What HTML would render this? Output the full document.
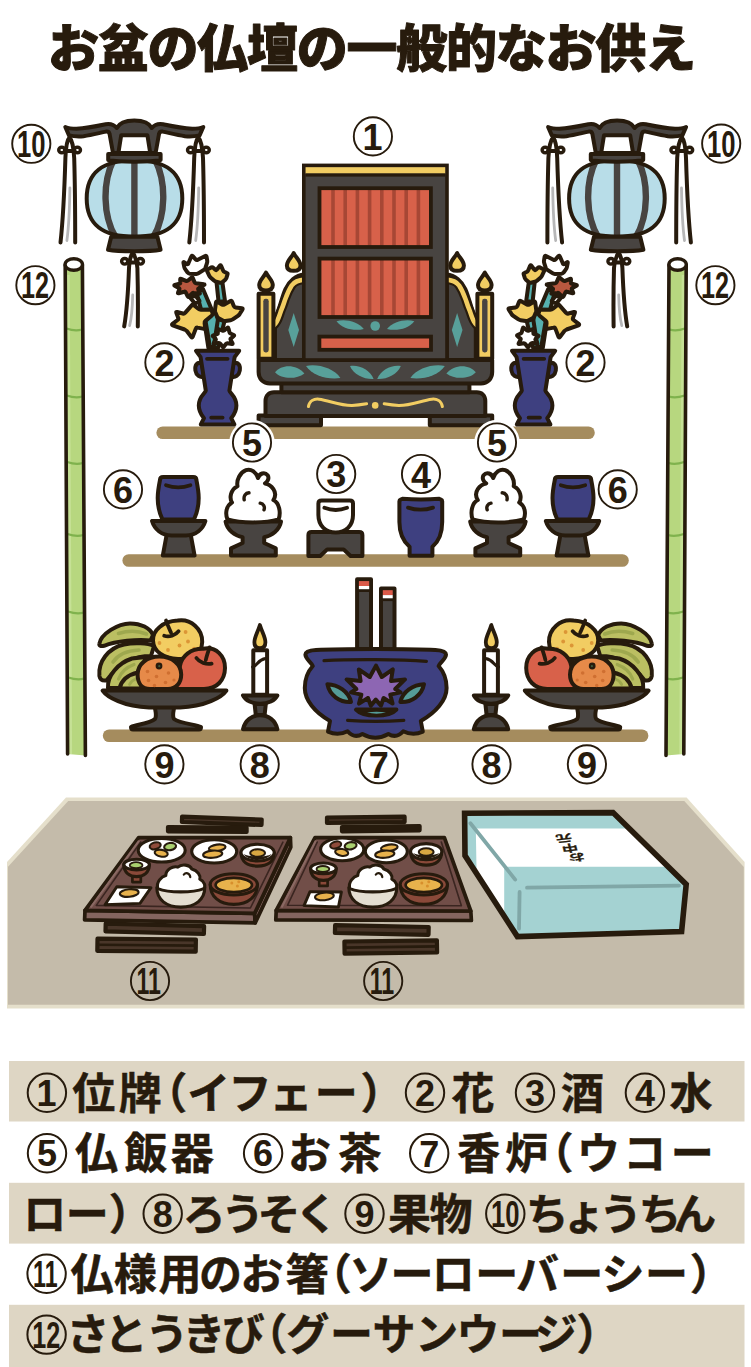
<!DOCTYPE html>
<html lang="ja"><head><meta charset="utf-8"><title>お盆の仏壇の一般的なお供え</title>
<style>
html,body{margin:0;padding:0;background:#fff}
body{width:751px;height:1367px;position:relative;overflow:hidden;font-family:"Liberation Sans",sans-serif}
svg{position:absolute;left:0;top:0;display:block}
svg text{font-family:"Liberation Sans","Noto Sans CJK JP",sans-serif}
.d{font-size:36px;font-weight:bold;fill:#271b0d;stroke:none}
.t{position:absolute;margin:0;color:transparent;white-space:nowrap;font-weight:bold;overflow:hidden;user-select:none}
.o{stroke:#271b0d;stroke-width:4;stroke-linejoin:round;stroke-linecap:round}
.n{fill:none}
.dk{fill:#484441}
.bl{fill:#3e4080}
.gd{fill:#f2cd62}
.tl{fill:#58a09a}
.rd{fill:#d8614a}
.wh{fill:#fff}
</style></head><body>
<svg role="img" aria-label="お盆の仏壇の一般的なお供え" width="751" height="1367" viewBox="0 0 751 1367">
<!-- 00_title.py -->
<g fill="#271b0d" stroke="#271b0d" stroke-width="1" stroke-linejoin="round">
<text x="47.9" y="67.3" font-size="51" font-weight="900" textLength="648" lengthAdjust="spacing">お盆の仏壇の一般的なお供え</text>
</g>
<!-- 05_shelves.svg -->
<g fill="#a58c5e">
<rect x="156.4" y="426.4" width="438.4" height="12.6" rx="6.3"/>
<rect x="122.4" y="554.2" width="506.4" height="12.6" rx="6.3"/>
<rect x="102.8" y="729.4" width="545.6" height="12.6" rx="6.3"/>
</g>

<!-- 10_lantern.py -->
<defs>
<g id="stassel">
  <!-- side tassel -->
  <path class="wh" d="M60.5,242.5 C63,220 64.6,185 65.4,158 L74.2,158 C75,185 75.2,220 75.2,242.5 Z"/>
  <path class="o n" d="M60.5,242.5 C63,220 64.6,185 65.4,158 C65.8,147 67,140 69.5,137.5 C72,140 73.6,147 74.2,158 C75,185 75.2,220 75.2,242.5"/>
  <path d="M69.9,188 C69.6,210 68.6,228 66.9,240.5" fill="none" stroke="#b7b7b8" stroke-width="2.8" stroke-linecap="round"/>
  <ellipse class="o n" cx="61.8" cy="150" rx="3.1" ry="2.8" style="stroke-width:3.4"/>
  <ellipse class="o n" cx="77.4" cy="150" rx="3.1" ry="2.8" style="stroke-width:3.4"/>
  <path class="o n" d="M65,151 L74.5,151"/>
</g>
<g id="lantern">
  <use href="#stassel"/><use href="#stassel" transform="translate(128.8,0)"/>
  <!-- bottom tassel -->
  <path class="wh" d="M124.2,326.4 C127,310 128.4,285 129,268 L137.4,268 C137.9,285 138,310 137.8,326.4 Z"/>
  <path class="o n" d="M124.2,326.4 C127,310 128.4,285 129,268 C129.4,260 130.4,256 132.8,252.6 C135,256 136.8,260 137.4,268 C137.9,285 138,310 137.8,326.4"/>
  <path d="M132.7,295 C132.4,309 131.4,319 129.6,325.6" fill="none" stroke="#b7b7b8" stroke-width="2.8" stroke-linecap="round"/>
  <ellipse class="o n" cx="124.7" cy="261.3" rx="3.1" ry="2.8" style="stroke-width:3.4"/>
  <ellipse class="o n" cx="140.4" cy="261.3" rx="3.1" ry="2.8" style="stroke-width:3.4"/>
  <path class="o n" d="M128.4,262.6 L137.8,262.6"/>
  <!-- hanger -->
  <path class="o dk" fill-rule="evenodd" d="M65.3,127 C68,128.2 72,128.8 76.4,128.8 C88,128 98,125.8 105.6,124.2 C110,123.4 114,124.6 116.8,128 C119.5,122.5 126,120.4 134.3,120.4 C142.6,120.4 149.1,122.5 151.8,128 C154.6,124.6 158.6,123.4 163,124.2 C170.6,125.8 180.6,128 192.2,128.8 C196.6,128.8 200.6,128.2 203.3,127 L199.6,135.4 C195,136.4 190,136.6 185,136.2 C176,134.8 168,132.6 162.6,131.6 C160.6,131.4 159.3,132.2 159,134.2 L155.6,153 L113,153 L109.6,134.2 C109.3,132.2 108,131.4 106,131.6 C100.6,132.6 92.6,134.8 83.6,136.2 C78.6,136.6 73.6,136.4 69,135.4 Z M121.2,135.2 L147.4,135.2 L150.2,152.9 L118.4,152.9 Z"/>
  <!-- globe -->
  <clipPath id="lgc"><path d="M134.5,160.3 C167.0,160.3 182.3,172.5 182.3,198.5 C182.3,224.5 167.0,236.7 134.5,236.7 C102.0,236.7 86.7,224.5 86.7,198.5 C86.7,172.5 102.0,160.3 134.5,160.3 Z"/></clipPath>
  <path d="M134.5,160.3 C167.0,160.3 182.3,172.5 182.3,198.5 C182.3,224.5 167.0,236.7 134.5,236.7 C102.0,236.7 86.7,224.5 86.7,198.5 C86.7,172.5 102.0,160.3 134.5,160.3 Z" fill="#b8dde8"/>
  <g clip-path="url(#lgc)" fill="none" stroke="#484441" stroke-width="6.4">
    <path d="M134.4,158 L134.4,238" stroke-width="6.4"/>
    <path d="M113.5,160 C102.5,182 102.5,216 116,238"/>
    <path d="M155.3,160 C166.3,182 166.3,216 152.8,238"/>
  </g>
  <path class="o n" d="M134.5,160.3 C167.0,160.3 182.3,172.5 182.3,198.5 C182.3,224.5 167.0,236.7 134.5,236.7 C102.0,236.7 86.7,224.5 86.7,198.5 C86.7,172.5 102.0,160.3 134.5,160.3 Z" style="stroke-width:4"/>
  <!-- collars -->
  <path class="o dk" d="M108.2,154 L160.6,154 L160.6,160 C150,162.2 119,162.2 108.2,160 Z"/>
  <path class="o dk" d="M111.2,236.8 L157.4,236.8 L160.6,249.8 C150,251.8 118.5,251.8 108,249.8 Z"/>
</g>

<g id="cane">
  <path d="M65.2,265 L67.6,754 L85.4,755.5 L82.4,265 Z" fill="#b7d77f"/>
  <path d="M68.2,275 L70.6,754" stroke="#c6e196" stroke-width="3" fill="none"/>
  <g fill="none" stroke="#7fb24d" stroke-width="2.2" stroke-linecap="round">
    <path d="M66.5,328.5 Q75,331.5 82.0,329.5"/>
    <path d="M66.8,395.5 Q75.5,398.5 82.4,396.5"/>
    <path d="M67.2,462 Q76,465 82.8,463"/>
    <path d="M67.5,534 Q76.5,537 83.4,535"/>
    <path d="M68,611.5 Q77,614.5 84.0,612.5"/>
    <path d="M68.3,677.5 Q77.5,680.5 84.4,678.5"/>
  </g>
  <path class="o n" d="M65.2,265 L67.6,754 M82.4,265 L85.4,755.5" style="stroke-width:3.6"/>
  <ellipse class="o wh" cx="73.8" cy="264.5" rx="8.7" ry="5.8" style="stroke-width:3.4"/>
</g>
</defs>
<use href="#lantern"/>
<use href="#lantern" transform="translate(751.4,0) scale(-1,1)"/>
<use href="#cane"/>
<use href="#cane" transform="translate(751.4,0) scale(-1,1)"/>
<!-- 20_altar.py -->
<defs><g id="altarhalf">
  <!-- wing -->
  <path class="o dk" d="M304,274.5 C296,275 289,281 285.5,289 C281.5,298 280,308 276.5,314.5 L275,316 L275,360 L304,360 Z"/>
  <path d="M305,279.6 C298,280 294,282 291.7,285.5 C288,291 286.5,296 284.7,300.8 C283.4,305 282.2,308 281,310.8 C279.8,314.5 278.6,318.5 276.8,321.6 C276,323 275.2,324.2 273.6,325.6" fill="none" stroke="#271b0d" stroke-width="9" stroke-linecap="butt"/>
  <path d="M305,279.6 C298,280 294,282 291.7,285.5 C288,291 286.5,296 284.7,300.8 C283.4,305 282.2,308 281,310.8 C279.8,314.5 278.6,318.5 276.8,321.6 C276,323 275.2,324.2 273.6,325.6" fill="none" stroke="#f2cd62" stroke-width="4.6" stroke-linecap="butt"/>
  <path class="tl" d="M293.7,313 L299,330 L293.7,347 L288.3,330 Z"/>
  <!-- post -->
  <rect class="o gd" x="258.6" y="293.8" width="14.8" height="65" />
  <rect class="dk" x="263.3" y="298.8" width="5.4" height="53.6" rx="2.4"/>
  <path class="o gd" d="M266,272.6 C268,277 272.8,280.5 272.8,285 C272.8,288.6 270,290.4 266,290.4 C262,290.4 259.2,288.6 259.2,285 C259.2,280.5 264,277 266,272.6 Z"/>
  <path class="o gd" d="M293.7,253 C295.7,257.4 300.5,260.9 300.5,265.4 C300.5,269 297.7,270.8 293.7,270.8 C289.7,270.8 286.9,269 286.9,265.4 C286.9,260.9 291.7,257.4 293.7,253 Z"/>
</g></defs>
<g id="altar">
<rect class="o dk" x="258.6" y="415.6" width="62.4" height="9.6"/><rect class="o dk" x="429.8" y="415.6" width="62.4" height="9.6"/>
<path class="o dk" d="M265.5,416 L265.5,401 C265.5,395.5 269,392.3 274,392.3 L476.8,392.3 C481.8,392.3 485.3,395.5 485.3,401 L485.3,416 Z"/>
<rect class="o dk" x="281.4" y="383" width="188" height="9.3"/>
<use href="#altarhalf"/><use href="#altarhalf" transform="translate(750.8,0) scale(-1,1)"/>
<path class="o dk" d="M258.6,360 L492.2,360 L492.2,372 C492.2,379 487.5,383.4 481,383.4 L269.8,383.4 C263.3,383.4 258.6,379 258.6,372 Z"/>
<rect class="o dk" x="303.8" y="165.4" width="143.2" height="194.6" style="stroke-width:3.6;stroke-linejoin:miter"/>
<rect x="305.6" y="167.2" width="139.6" height="6.4" class="gd"/><rect x="305.6" y="173.4" width="139.6" height="3.2" fill="#271b0d"/>
<rect x="319.5" y="188.2" width="111.4" height="58.8" class="rd"/><g fill="#3a0d06" opacity="0.3"><rect x="331.2" y="188.2" width="3.6" height="58.8"/><rect x="343.4" y="188.2" width="3.6" height="58.8"/><rect x="355.6" y="188.2" width="3.6" height="58.8"/><rect x="367.8" y="188.2" width="3.6" height="58.8"/><rect x="380.0" y="188.2" width="3.6" height="58.8"/><rect x="392.2" y="188.2" width="3.6" height="58.8"/><rect x="404.4" y="188.2" width="3.6" height="58.8"/><rect x="416.6" y="188.2" width="3.6" height="58.8"/></g><rect x="319.5" y="188.2" width="111.4" height="58.8" class="o n" style="stroke-width:3.8;stroke-linejoin:miter"/>
<rect x="319.5" y="258.6" width="111.4" height="58.4" class="rd"/><g fill="#3a0d06" opacity="0.3"><rect x="331.2" y="258.6" width="3.6" height="58.4"/><rect x="343.4" y="258.6" width="3.6" height="58.4"/><rect x="355.6" y="258.6" width="3.6" height="58.4"/><rect x="367.8" y="258.6" width="3.6" height="58.4"/><rect x="380.0" y="258.6" width="3.6" height="58.4"/><rect x="392.2" y="258.6" width="3.6" height="58.4"/><rect x="404.4" y="258.6" width="3.6" height="58.4"/><rect x="416.6" y="258.6" width="3.6" height="58.4"/></g><rect x="319.5" y="258.6" width="111.4" height="58.4" class="o n" style="stroke-width:3.8;stroke-linejoin:miter"/>
<rect x="319.4" y="336.6" width="111.6" height="13.2" class="o rd" style="stroke-width:3.8;stroke-linejoin:miter"/>
<g class="tl"><circle cx="375.2" cy="326" r="4.8"/><path id="lf1" d="M336.5,321.2 C345,318.5 358,321.5 363.8,329 C354,331.5 342,328.5 336.5,321.2 Z"/><use href="#lf1" transform="translate(750.8,0) scale(-1,1)"/><path id="lf2" d="M275,372.2 C281,364.5 296,363.5 304.4,373.4 C296,380 281,379 275,372.2 Z"/><path id="lf3" d="M306,366 C318,363.5 334,368.5 340.4,378 C328,380 312,375.5 306,366 Z"/><path id="lf4" d="M350,366 C359,364.5 370,369.5 373.6,379 C364,379.5 353.5,374.5 350,366 Z"/><use href="#lf2" transform="translate(750.8,0) scale(-1,1)"/><use href="#lf3" transform="translate(750.8,0) scale(-1,1)"/><use href="#lf4" transform="translate(750.8,0) scale(-1,1)"/></g>
<g fill="none" stroke="#f2cd62" stroke-width="3" stroke-linecap="round"><path id="sw1" d="M308.4,406.6 C309.5,401 314,398.6 319,399.2 C329,400.4 340,405.6 352,405.4 C357,405.3 362,404.6 366.6,403.8"/><use href="#sw1" transform="translate(750.8,0) scale(-1,1)"/></g><circle cx="375.2" cy="405.4" r="3.3" class="gd"/>
</g>
<!-- 25_vase.py -->
<defs><g id="vase"><g class="o" fill="#56b0ae">
<path d="M216.4,281.0 L222.4,282.4 L225.0,301.0 L218.6,302.0 Z"/>
<path d="M196.5,292.5 L203.0,289.0 L217.0,322.0 L215.0,348.0 L208.4,348.0 L204.4,322.0 Z"/>
<path d="M205.0,318.0 L215.5,312.0 L218.5,321.0 L214.5,347.0 L210.0,347.0 Z"/>
<path d="M218.0,319.0 L224.5,321.0 L218.0,348.0 L213.5,348.0 Z"/>
</g>
<path class="o wh" d="M190.0,297.5 L195.5,295.5 L199.5,301.0 L195.0,303.5 Z"/>
<path class="o wh" d="M212.9,336.3 Q212.2,335.6 213.2,335.3 L217.1,334.2 Q218.0,333.9 217.9,332.9 L217.5,329.6 Q217.4,328.6 218.3,329.0 L222.5,330.6 Q223.4,331.0 224.2,330.4 L227.4,327.8 Q228.2,327.2 228.4,328.2 L229.4,332.1 Q229.6,333.1 230.5,333.5 L233.7,335.0 Q234.6,335.4 233.8,336.0 L231.0,338.4 Q230.2,339.0 230.7,339.9 L232.5,343.3 Q233.0,344.2 232.0,344.0 L227.5,343.3 Q226.5,343.2 225.9,344.0 L223.8,346.8 Q223.2,347.6 222.6,346.8 L220.3,343.6 Q219.7,342.8 218.7,342.9 L214.4,343.6 Q213.4,343.8 213.9,342.9 L215.7,340.1 Q216.2,339.3 215.5,338.6 Z"/>
<path class="o" fill="#b9583f" d="M174.7,285.7 Q173.8,285.2 174.8,284.9 L179.4,283.7 Q180.4,283.4 180.3,282.4 L180.2,279.4 Q180.2,278.4 181.1,278.8 L186.0,280.9 Q186.9,281.3 187.7,280.7 L191.6,277.6 Q192.4,277.0 192.8,277.9 L194.6,282.3 Q195.0,283.2 196.0,283.3 L204.0,284.3 Q205.0,284.4 204.1,284.9 L198.8,288.2 Q197.9,288.7 198.3,289.6 L199.8,293.1 Q200.2,294.0 199.2,293.8 L193.8,292.9 Q192.9,292.7 192.2,293.4 L188.9,296.7 Q188.2,297.4 187.8,296.5 L185.7,292.3 Q185.2,291.4 184.3,291.7 L178.6,293.2 Q177.6,293.4 178.0,292.5 L179.3,289.4 Q179.7,288.5 178.8,288.0 Z"/>
<path class="o gd" d="M207.1,271.1 Q206.6,269.8 207.8,269.2 L211.2,267.4 Q212.4,266.8 213.4,267.8 L215.2,269.7 Q216.2,270.7 217.0,269.5 L219.8,265.7 Q220.6,264.6 221.1,265.9 L223.1,270.5 Q223.6,271.8 224.9,272.2 L226.7,272.8 Q228.0,273.2 227.5,274.5 L226.5,277.7 Q226.0,279.0 225.0,279.9 L222.5,282.1 Q221.5,283.0 220.1,282.7 L216.4,281.8 Q215.0,281.5 214.0,280.6 L210.5,277.5 Q209.5,276.6 209.0,275.3 Z"/>
<path class="o wh" d="M183.5,263.0 Q183.2,261.6 184.4,262.4 L186.7,263.9 Q187.8,264.6 188.4,263.3 L191.3,256.5 Q191.8,255.2 192.8,256.2 L195.6,259.3 Q196.6,260.4 197.8,259.7 L205.2,256.0 Q206.4,255.4 206.6,256.8 L207.2,260.6 Q207.4,262.0 206.9,263.3 L205.5,267.7 Q205.0,269.0 203.8,269.8 L198.7,273.2 Q197.5,274.0 196.1,273.9 L189.9,273.7 Q188.5,273.6 187.6,272.5 L185.5,269.6 Q184.6,268.5 184.3,267.1 Z"/>
<path class="o gd" d="M216.0,302.4 Q216.2,301.0 217.4,301.7 L221.9,304.5 Q223.1,305.2 224.3,304.5 L230.4,301.1 Q231.6,300.4 232.1,301.7 L233.8,305.9 Q234.3,307.2 235.7,307.4 L241.8,308.2 Q243.2,308.4 242.4,309.6 L239.8,313.8 Q239.0,315.0 237.9,315.8 L233.1,319.2 Q232.0,320.0 230.6,320.2 L225.4,321.0 Q224.0,321.2 222.8,320.5 L218.7,318.2 Q217.5,317.5 217.0,316.2 L215.3,312.3 Q214.8,311.0 215.0,309.6 Z"/>
<path class="o gd" d="M172.7,325.3 Q171.4,324.8 172.5,323.9 L177.6,320.0 Q178.7,319.2 178.2,317.9 L176.3,312.9 Q175.8,311.6 177.2,312.0 L182.8,313.5 Q184.2,313.9 185.1,312.8 L191.9,305.2 Q192.8,304.2 193.9,305.1 L198.3,308.8 Q199.4,309.7 200.8,309.7 L210.0,309.6 Q211.4,309.6 211.8,310.9 L212.6,313.3 Q213.0,314.6 211.9,315.5 L205.5,320.9 Q204.4,321.8 204.6,323.2 L205.2,327.8 Q205.4,329.2 204.0,328.9 L197.6,327.6 Q196.3,327.3 195.8,328.6 L192.7,336.7 Q192.2,338.0 191.3,336.9 L186.8,331.1 Q185.9,330.0 184.6,329.5 Z"/>
<path class="o bl" d="M202,363.4 C197,361.4 194.6,365.5 195.4,370.5 C196.2,375.5 200,378 204,376.6 Z"/>
<path class="o bl" d="M233.2,363.4 C238.2,361.4 240.6,365.5 239.8,370.5 C239,375.5 235.2,378 231.2,376.6 Z"/>
<path class="o bl" d="M196,350.8 L239.2,350.8 L234.6,357.2 L229.4,390.6 C230,393.6 236.4,396.4 236.4,405.5 C236.4,412 233,416 231.2,418.2 L234.4,424.4 L200.8,424.4 L204,418.2 C202.2,416 198.8,412 198.8,405.5 C198.8,396.4 205.2,393.6 205.8,390.6 L200.6,357.2 Z"/>
<path class="o n" d="M207,358.8 L227.6,358.8 M211.2,417.6 L222.6,417.6" style="stroke-width:3.8"/></g></defs>
<use href="#vase"/><use href="#vase" transform="translate(751.2,0) scale(-1,1)"/>
<!-- 30_mid.py -->
<defs><g id="mid"><path class="o dk" d="M166.6,535 L190.8,535 L194.6,555.6 L162.8,555.6 Z"/>
<path class="o dk" d="M152,521 L205.4,521 C203,529 196,535.4 186,535.4 L171.4,535.4 C161.4,535.4 154.4,529 152,521 Z"/>
<path class="o bl" d="M160,480 C160,478 161.2,477 163.2,477 L193.2,477 C195.2,477 196.4,478 196.4,480 C197.6,486 198.7,492 198.7,498 C198.7,507 196.6,514 194,519.4 L162.4,519.4 C159.8,514 157.7,507 157.7,498 C157.7,492 158.8,486 160,480 Z"/>
<path class="o n" d="M166,485.2 Q178.2,489.600 190.4,485.2" style="stroke-width:3.8"/>
<path class="o dk" d="M225.6,521.6 L281,521.6 C279.5,530 272,535.6 264.2,537.2 L264.2,543 L275.8,548.4 L275.8,555.6 L231,555.6 L231,548.4 L242.600,543 L242.600,537.2 C234.8,535.6 227.1,530 225.6,521.6 Z"/>
<path class="o wh" d="M227.5,519.4 C225.3,514.5 225.6,506 232,502.5 C229.3,498.5 230.3,489.5 237.5,486.2 C236.3,480 240,472.5 246,470.2 C251,468.4 256,472 258,478 C259.5,473.5 264.5,471.4 267.6,475.2 C269.4,477.8 268,481.6 265,483.5 C271,484.6 278.6,492 273.4,500 C279,502.6 281.2,512 278.6,519.4 C265,523.4 241,523.4 227.5,519.4 Z"/>
<path class="o n" d="M249,492.8 C245.5,493 243.4,496 244.2,499.8 M260.2,503.2 C263.5,503.8 265.2,506.6 264,509.8" style="stroke-width:3.4"/></g></defs><use href="#mid"/><use href="#mid" transform="translate(751.2,0) scale(-1,1)"/>
<path class="o dk" d="M308.4,535 C308.4,533 309.600,532 311.600,532 L359.200,532 C361.200,532 362.400,533 362.400,535 L362.400,556 L350.600,556 L343.600,549.400 L327.200,549.400 L320.200,556 L308.400,556 Z"/>
<path class="o wh" d="M318.400,503.6 C318.400,501.6 319.600,500.6 321.600,500.6 L349.800,500.6 C351.800,500.6 353,501.6 353,503.6 L353,515 C353,526 345.500,532.600 335.700,532.600 C325.900,532.600 318.400,526 318.400,515 Z"/>
<path class="o n" d="M324.400,507.800 Q335.700,512.2 347,507.800" style="stroke-width:3.8"/>
<path class="o bl" d="M399.400,501.2 C399.400,499.4 400.400,500 402.200,498.8 C414,499.8 428,499.8 439.400,498.8 C441.200,500 442.200,499.4 442.200,501.2 L442.200,522 C442.200,534 438,542 432.400,546.800 L432.400,555.800 L409.600,555.800 L409.600,546.800 C404,542 399.400,534 399.400,522 Z"/>
<path class="o n" d="M408,507.600 Q420.600,511.800 433,507.600" style="stroke-width:3.8"/>
<!-- 40_bottom.py -->
<defs><g id="bot"><path class="o" fill="#bbbf62" d="M99.400,643.600 C101,634 118,623.400 130,623.400 C141,623.400 150,628 153,635 L150.500,640.500 C138,639 116,641 104,645.800 C100.500,646.600 99,645.400 99.400,643.600 Z"/>
<path d="M118.500,633.500 C128,630.500 138,630.500 146.500,634" fill="none" stroke="#9ea84e" stroke-width="3.600" stroke-linecap="round"/>
<path class="o" fill="#bbbf62" d="M99.400,676 C98,662 108,648 124,644.500 C134,642.400 148,643 154,646 L151,656 C136,656 122,660 106.500,680.500 C102.500,681 100,679.500 99.400,676 Z"/>
<path d="M113,662 C118,654.500 128,650.500 139,650" fill="none" stroke="#9ea84e" stroke-width="3.600" stroke-linecap="round"/>
<path class="o" fill="#bbbf62" d="M108,688 C107,676 118,663 132,658.500 L146,657 L140,676 L122,688 Z"/>
<path d="M118.500,679 C121,672 127,667 134,664.500" fill="none" stroke="#9ea84e" stroke-width="3.200" stroke-linecap="round"/>
<path class="o" fill="#bbbf62" d="M119.500,688.500 C121.500,680 129,674.500 138,672.500 L142,688.500 Z"/>
<path d="M129.500,684.500 C131,681.500 133.500,679.800 136,679" fill="none" stroke="#9ea84e" stroke-width="2.800" stroke-linecap="round"/>
<path class="o gd" d="M177.600,620.600 C191,618.500 202.600,629 202.200,642 C201.800,654 192,659.600 178,659 C163.500,658.400 153.400,651.500 153,640.500 C152.600,630 163,621.500 177.600,620.600 Z"/>
<g fill="#dc9636"><circle cx="185.600" cy="632" r="1.900"/><circle cx="188" cy="641.500" r="1.900"/><circle cx="179.500" cy="645.500" r="1.900"/><circle cx="168" cy="650" r="1.900"/><circle cx="159.500" cy="643" r="1.900"/><circle cx="194" cy="648.500" r="1.700"/></g>
<path class="o n" d="M166,620.500 C167.500,625 169.500,629 171,632.600 M164.200,635.800 C169,637.500 175.500,635.500 178.600,631.200" style="stroke-width:3.8"/>
<circle cx="178.8" cy="661" r="2.2" fill="#271b0d"/>
<path class="o rd" d="M203,648.800 C216,646 225.200,656 225,668 C224.800,680 217,689 204,689 L176,689 C176,683 178.500,673 180,665.500 C182,655.500 191,648.500 203,648.800 Z"/>
<path class="o n" d="M209.600,647.400 C208,652 206.600,656 205.800,660 M196.400,658 C199.500,662.500 206.500,664.800 211.600,663.600" style="stroke-width:3.8"/>
<path class="o" fill="#e68a49" d="M159.500,656.600 C172,656.600 181.200,664 181.200,674.500 C181.200,683 176,689 168,689 L150,689 C142,689 137.600,683 137.600,674.500 C137.600,664 147,656.600 159.500,656.600 Z"/>
<g fill="#cf6f31"><circle cx="147.500" cy="671.500" r="1.800"/><circle cx="156.500" cy="676.500" r="1.800"/><circle cx="148.500" cy="680.500" r="1.800"/><circle cx="168.500" cy="673" r="1.800"/><circle cx="165.500" cy="682.500" r="1.800"/><circle cx="154.500" cy="685.500" r="1.700"/><circle cx="174" cy="680" r="1.600"/></g>
<circle cx="159" cy="666" r="3.400" fill="#271b0d"/><circle cx="159.300" cy="666.200" r="1.100" fill="#3f5a3c"/>
<path class="o dk" d="M154.600,706 C155.600,712 157,716 155,719 C150,723.500 136,724.500 131,727 C131,728.800 131.500,729.500 133,729.500 L199,729.500 C200.500,729.500 201,728.800 201,727 C196,724.500 180,723.500 174,719 C172,716 173.400,712 174.400,706 Z"/>
<path class="o dk" d="M102.600,690.600 L226.400,690.600 C222,697 205,706.800 180,707.400 L149,707.400 C124,706.800 107,697 102.600,690.600 Z"/>
<path class="o dk" d="M254.600,704 L265.800,704 L264.600,715 L255.800,715 Z"/>
<path class="o dk" d="M243,729.200 C245,720.500 252,715.200 260.200,715.200 C268.400,715.200 275.400,720.500 277.400,729.200 Z"/>
<path class="o dk" d="M243,695.400 L277.400,695.400 C275,700.500 268,703.800 260.200,703.800 C252.400,703.800 245.400,700.500 243,695.400 Z"/>
<rect class="o wh" x="253.300" y="650.200" width="13.800" height="44.600"/>
<path class="o n" d="M252.600,667 C257,666 258,659.500 265.600,658.600" style="stroke-width:3"/>
<path class="o gd" d="M259.900,625 C262,632 265.400,637 265.400,642.200 C265.400,646.200 263.200,648.200 259.900,648.200 C256.600,648.200 254.400,646.200 254.400,642.200 C254.400,637 257.800,632 259.900,625 Z" style="stroke-width:3.800"/></g></defs><use href="#bot"/><use href="#bot" transform="translate(751.2,0) scale(-1,1)"/>
<g id="burner"><rect class="o dk" x="357.100" y="579.300" width="13.900" height="70"/><rect x="358.900" y="581.100" width="10.300" height="4.900" fill="#dc5a49"/><rect x="358.900" y="586" width="10.300" height="3.400" fill="#fff"/><rect x="357.100" y="589.400" width="13.900" height="2.600" fill="#271b0d"/>
<rect class="o dk" x="381" y="588.400" width="13.500" height="61"/><rect x="382.800" y="590.200" width="9.900" height="4.900" fill="#dc5a49"/><rect x="382.800" y="595.100" width="9.900" height="3.400" fill="#fff"/><rect x="381" y="598.500" width="13.500" height="2.600" fill="#271b0d"/>
<path class="o bl" d="M305.4,654.6 C305.4,651.5 309,650.4 316,650 C340,648.6 411,648.6 435.4,650 C442.4,650.4 446,651.5 446,654.6 C446,659 441,661 438.6,666 C444,672 446.6,680 446.6,688 C446.6,700 436,712.5 420.8,721 L422.8,731.6 Q413,736.2 403.2,731.2 Q396.5,738.8 388.4,734 Q375.4,741.4 362.4,734 Q354.3,738.8 347.6,731.2 Q337.8,736.2 328,731.6 L330,721 C314.800,712.500 304.800,700 304.800,688 C304.800,680 307.400,672 312.800,666 C310.400,661 305.400,659 305.400,654.600 Z"/>
<path class="o n" d="M324,660.600 C350,659.200 400,659.200 426.400,661.400 M347.600,720.400 C365,721.600 386,721.600 403.800,720.400" style="stroke-width:3.200"/>
<path class="o" fill="#559c98" d="M327.400,684.200 C338,684.500 349,692 351,702 C340,702.600 329.500,695.500 327.400,684.200 Z"/><path class="o" fill="#559c98" d="M424,684.200 C413.400,684.500 402.400,692 400.400,702 C411.400,702.600 421.900,695.500 424,684.200 Z"/>
<path class="o" fill="#8d66b3" d="M376.0,665.6 L381.8,677.0 L392.8,669.4 L391.0,681.0 L405.0,679.4 L395.2,689.0 L400.6,692.4 L390.2,694.6 L392.6,703.6 L383.6,698.0 L381.0,705.6 L375.8,699.6 L370.8,705.6 L368.0,698.0 L359.0,703.6 L361.4,694.6 L351.0,692.4 L356.4,689.0 L346.6,679.4 L360.6,681.0 L358.8,669.4 L369.8,677.0 Z"/>
<path class="o" fill="#271b0d" d="M356,709.600 L396.400,709.600 C392,714.400 384,715.600 376.200,715.600 C368.400,715.600 360.400,714.400 356,709.600 Z"/><path d="M367,712.600 C373,714 380,714 386,712.600 C380,711.600 373,711.600 367,712.600 Z" fill="#559c98"/></g>
<!-- 60_table.svg -->
<path d="M66,797.5 L686.6,797.5 L744.6,862 L744.6,1008.6 L7,1008.6 L7,862 Z" fill="#e5dfcb"/>
<path d="M68.2,801 L684.3,801 L743.8,867.1 L743.8,1004.7 L8,1004.7 L8,866.8 Z" fill="#c4bbaa"/>

<!-- 62_trays.py -->
<g id="tray1"><path d="M181.9,822.0 L261.5,825.0 L261.7,819.6 L182.1,816.6 Z" fill="#493629" stroke="#271b0d" stroke-width="4.2" stroke-linejoin="round"/><path d="M168.0,831.3 L246.6,831.9 L246.6,827.7 L168.0,827.1 Z" fill="#493629" stroke="#271b0d" stroke-width="4.2" stroke-linejoin="round"/><path d="M105.5,931.4 L203.9,934.0 L204.1,926.2 L105.7,923.6 Z" fill="#493629" stroke="#271b0d" stroke-width="4.2" stroke-linejoin="round"/><path d="M97.3,950.9 L195.7,951.7 L195.9,939.5 L97.5,938.7 Z" fill="#493629" stroke="#271b0d" stroke-width="4.2" stroke-linejoin="round"/><path d="M97.4,944.8 L195.8,945.6" stroke="#271b0d" stroke-width="2.6" fill="none"/>
<path class="o" fill="#84655f" d="M85.0,910.4 L254.6,913.4 L255.2,922.9 L84.6,919.9 Z" style="stroke-width:3.7"/><path class="o" fill="#84655f" d="M290.4,837.6 L290.8,847.1 L255.2,922.9 L254.6,913.4 Z" style="stroke-width:3.7"/><path class="o" fill="#714e48" d="M138.6,837.6 L290.4,837.6 L254.6,913.4 L85.0,910.4 Z" style="stroke-width:3.7"/><path d="M140.7,842.0 L96.3,905.4 L250.4,908.0 L282.9,842.1" fill="none" stroke="#3a2520" stroke-width="1.600" stroke-linejoin="round" stroke-linecap="round"/><path d="M138.7,841.2 L91.1,906.8" fill="none" stroke="#8a6963" stroke-width="2" stroke-linecap="round"/>
<ellipse class="o wh" cx="161.7" cy="850.2" rx="23.5" ry="11.8" style="stroke-width:3.1"/><ellipse cx="155.2" cy="845.8" rx="5.6" ry="3.4" fill="#8f4c3b" class="o" transform="rotate(-15 155.2 845.8)" style="stroke-width:2.1"/><ellipse cx="170.1" cy="846.6" rx="6.0" ry="3.6" fill="#a9d06f" class="o" transform="rotate(-10 170.1 846.6)" style="stroke-width:2.1"/><ellipse cx="161.2" cy="853.2" rx="6.6" ry="3.4" fill="#e8b24c" class="o" transform="rotate(10 161.2 853.2)" style="stroke-width:2.1"/>
<ellipse class="o wh" cx="214.2" cy="851.4" rx="22.5" ry="11.6" style="stroke-width:3.1"/><ellipse cx="217.2" cy="847.8" rx="8.4" ry="3.2" fill="#e8b24c" class="o" transform="rotate(-8 217.2 847.8)" style="stroke-width:2.1"/><ellipse cx="212.7" cy="854.2" rx="9.6" ry="3.6" fill="#e8b24c" class="o" transform="rotate(-5 212.7 854.2)" style="stroke-width:2.1"/>
<path class="o" fill="#8a4939" d="M241.0,852.6 C241.0,861.6 247.6,866.1 257.6,866.1 C267.6,866.1 274.2,861.6 274.2,852.6 Z" style="stroke-width:3.1"/><ellipse class="o wh" cx="257.6" cy="852.6" rx="16.6" ry="8.4" style="stroke-width:3.1"/><path d="M243.5,854.1 C249.3,862.0 265.900,862.0 271.7,854.1 C265.9,857.6 249.3,857.6 243.5,854.1 Z" fill="#271b0d"/><ellipse cx="257.6" cy="853.0" rx="7.4" ry="3.8" fill="#d9a842" class="o" transform="rotate(0 257.6 853.0)" style="stroke-width:2.1"/>
<rect class="o" fill="#8a4939" x="132.4" y="875.1" width="8.400" height="7" style="stroke-width:2.7"/><path class="o" fill="#8a4939" d="M123.8,864.6 C123.8,872.6 129.6,876.6 136.6,876.6 C143.6,876.6 149.4,872.6 149.4,864.6 Z" style="stroke-width:3.1"/><ellipse class="o wh" cx="136.6" cy="864.6" rx="12.8" ry="5.4" style="stroke-width:3.1"/><ellipse cx="136.1" cy="865.2" rx="6.4" ry="3.0" fill="#a9d06f" class="o" transform="rotate(0 136.1 865.2)" style="stroke-width:1.8"/>
<path class="o wh" d="M116.8,886.8 L151.0,887.6 L140.0,903.4 L105.0,904.8 Z" style="stroke-width:2.9"/><ellipse cx="129.2" cy="893.0" rx="9.4" ry="3.8" fill="#e8b24c" class="o" transform="rotate(-6 129.2 893.0)" style="stroke-width:2.1"/>
<path class="o" fill="#e4ded1" d="M156.8,887.6 C156.8,899.6 166.4,907.1 180.8,907.1 C195.2,907.1 204.8,899.6 204.8,887.6 Z" style="stroke-width:3.1"/><path class="o wh" d="M157.8,888.6 C155.8,881.6 161.8,876.6 165.8,875.6 C165.8,869.6 172.8,865.6 177.8,867.1 C181.8,863.6 189.8,864.6 191.8,869.1 C197.8,870.6 200.8,875.6 199.8,879.1 C204.8,881.6 205.8,886.6 203.8,888.6 C192.8,893.0 168.8,893.0 157.8,888.6 Z" style="stroke-width:3.1"/><path class="o n" d="M183.8,874.6 C185.8,872.1 189.8,873.1 190.3,877.1" style="stroke-width:2.200"/>
<path class="o" fill="#8a4939" d="M210.2,884.4 C210.2,896.4 219.2,904.4 233.8,904.4 C248.4,904.4 257.4,896.4 257.4,884.4 Z" style="stroke-width:3.1"/><ellipse class="o" fill="#8a4939" cx="233.8" cy="884.4" rx="23.6" ry="10.6" style="stroke-width:3.1"/><ellipse class="o" fill="#e8b24c" cx="233.8" cy="885.0" rx="18.2" ry="7.2" style="stroke-width:2.7"/><g fill="#d88f2c"><circle cx="231.8" cy="883.0" r="1.500"/><circle cx="238.8" cy="881.8" r="1.500"/><circle cx="237.4" cy="886.0" r="1.500"/></g></g>
<g id="tray2"><path d="M327.0,822.9 L404.6,822.1 L404.6,816.7 L327.0,817.5 Z" fill="#493629" stroke="#271b0d" stroke-width="4.2" stroke-linejoin="round"/><path d="M342.0,831.3 L419.6,830.3 L419.6,826.1 L342.0,827.1 Z" fill="#493629" stroke="#271b0d" stroke-width="4.2" stroke-linejoin="round"/><path d="M334.9,933.0 L428.5,934.8 L428.7,927.0 L335.1,925.2 Z" fill="#493629" stroke="#271b0d" stroke-width="4.2" stroke-linejoin="round"/><path d="M344.6,953.7 L437.1,952.5 L436.9,940.3 L344.4,941.5 Z" fill="#493629" stroke="#271b0d" stroke-width="4.2" stroke-linejoin="round"/><path d="M344.5,947.6 L437.0,946.4" stroke="#271b0d" stroke-width="2.6" fill="none"/>
<path class="o" fill="#84655f" d="M276.2,910.4 L470.8,911.0 L471.4,920.5 L275.8,919.9 Z" style="stroke-width:3.7"/><path class="o" fill="#714e48" d="M315.0,837.6 L444.4,837.6 L470.8,911.0 L276.2,910.4 Z" style="stroke-width:3.7"/><path d="M317.3,842.0 L287.5,905.3 L461.4,905.8 L441.3,842.0" fill="none" stroke="#3a2520" stroke-width="1.600" stroke-linejoin="round" stroke-linecap="round"/><path d="M315.4,841.2 L282.0,906.8" fill="none" stroke="#8a6963" stroke-width="2" stroke-linecap="round"/>
<ellipse class="o wh" cx="342.2" cy="849.4" rx="21.6" ry="11.4" style="stroke-width:3.1"/><ellipse cx="335.7" cy="845.0" rx="5.6" ry="3.4" fill="#8f4c3b" class="o" transform="rotate(-15 335.7 845.0)" style="stroke-width:2.1"/><ellipse cx="350.6" cy="845.8" rx="6.0" ry="3.6" fill="#a9d06f" class="o" transform="rotate(-10 350.6 845.8)" style="stroke-width:2.1"/><ellipse cx="341.7" cy="852.4" rx="6.6" ry="3.4" fill="#e8b24c" class="o" transform="rotate(10 341.7 852.4)" style="stroke-width:2.1"/>
<ellipse class="o wh" cx="386.3" cy="851.4" rx="21.0" ry="11.4" style="stroke-width:3.1"/><ellipse cx="389.3" cy="847.8" rx="8.4" ry="3.2" fill="#e8b24c" class="o" transform="rotate(-8 389.3 847.8)" style="stroke-width:2.1"/><ellipse cx="384.8" cy="854.2" rx="9.6" ry="3.6" fill="#e8b24c" class="o" transform="rotate(-5 384.8 854.2)" style="stroke-width:2.1"/>
<path class="o" fill="#8a4939" d="M410.6,851.6 C410.6,860.6 416.8,865.1 426.2,865.1 C435.6,865.1 441.8,860.6 441.8,851.6 Z" style="stroke-width:3.1"/><ellipse class="o wh" cx="426.2" cy="851.6" rx="15.6" ry="8.0" style="stroke-width:3.1"/><path d="M413.1,853.1 C418.4,860.6 434.0,860.6 439.3,853.1 C434.0,856.2 418.4,856.2 413.1,853.1 Z" fill="#271b0d"/><ellipse cx="426.2" cy="852.0" rx="7.4" ry="3.8" fill="#d9a842" class="o" transform="rotate(0 426.2 852.0)" style="stroke-width:2.1"/>
<rect class="o" fill="#8a4939" x="319.2" y="878.9" width="8.400" height="7" style="stroke-width:2.7"/><path class="o" fill="#8a4939" d="M310.6,868.4 C310.6,876.4 316.4,880.4 323.4,880.4 C330.4,880.4 336.2,876.4 336.2,868.4 Z" style="stroke-width:3.1"/><ellipse class="o wh" cx="323.4" cy="868.4" rx="12.8" ry="5.4" style="stroke-width:3.1"/><ellipse cx="322.9" cy="869.0" rx="6.4" ry="3.0" fill="#a9d06f" class="o" transform="rotate(0 322.9 869.0)" style="stroke-width:1.8"/>
<path class="o wh" d="M310.0,891.6 L341.4,892.0 L338.4,907.0 L304.0,905.6 Z" style="stroke-width:2.9"/><ellipse cx="324.4" cy="896.4" rx="9.4" ry="3.8" fill="#e8b24c" class="o" transform="rotate(-6 324.4 896.4)" style="stroke-width:2.1"/>
<path class="o" fill="#e4ded1" d="M348.8,887.6 C348.8,899.6 358.4,907.1 372.8,907.1 C387.2,907.1 396.8,899.6 396.8,887.6 Z" style="stroke-width:3.1"/><path class="o wh" d="M349.8,888.6 C347.8,881.6 353.8,876.6 357.8,875.6 C357.8,869.6 364.8,865.6 369.8,867.1 C373.8,863.6 381.8,864.6 383.8,869.1 C389.8,870.6 392.8,875.6 391.8,879.1 C396.8,881.6 397.8,886.6 395.8,888.6 C384.8,893.0 360.8,893.0 349.8,888.6 Z" style="stroke-width:3.1"/><path class="o n" d="M375.8,874.6 C377.8,872.1 381.8,873.1 382.3,877.1" style="stroke-width:2.200"/>
<path class="o" fill="#8a4939" d="M400.2,884.4 C400.2,896.4 409.2,904.4 423.8,904.4 C438.4,904.4 447.4,896.4 447.4,884.4 Z" style="stroke-width:3.1"/><ellipse class="o" fill="#8a4939" cx="423.8" cy="884.4" rx="23.6" ry="10.6" style="stroke-width:3.1"/><ellipse class="o" fill="#e8b24c" cx="423.8" cy="885.0" rx="18.2" ry="7.2" style="stroke-width:2.7"/><g fill="#d88f2c"><circle cx="421.8" cy="883.0" r="1.500"/><circle cx="428.8" cy="881.8" r="1.500"/><circle cx="427.4" cy="886.0" r="1.500"/></g></g>
<!-- 64_box.py -->
<path d="M464.6,813.2 L613.0,812.6 L686.2,884.4 L681.6,931.6 L517.4,936.6 L465.0,855.6 Z" fill="#a4d2d2"/>
<path d="M475.8,828.6 L629.4,828.6 L668.4,866.8 L504.2,866.8 L504.2,917.0 L476.6,874.0 Z" fill="#fff"/>
<g fill="none" stroke="#80a7a7" stroke-width="3.8" stroke-linecap="round"><path d="M470.400,823.200 L515.200,879.600"/><path d="M527,887.600 L679,885.600"/><path d="M519.600,892 L519,928.600"/></g>
<path class="o n" d="M464.6,813.2 L613.0,812.6 L686.2,884.4 L681.6,931.6 L517.4,936.6 L465.0,855.6 Z" style="stroke-width:5.6;stroke-linejoin:miter"/>
<g transform="matrix(-1.584,0.176,-0.250,-0.970,576.6,857.4)"><text x="-5.34" y="3.88" font-size="10.2" font-weight="bold" fill="#271b0d" stroke="#271b0d" stroke-width="0.2">お</text></g>
<g transform="matrix(-1.584,0.176,-0.250,-0.970,570.0,848.2)"><text x="-5.11" y="3.88" font-size="10.2" font-weight="bold" fill="#271b0d" stroke="#271b0d" stroke-width="0.2">中</text></g>
<g transform="matrix(-1.584,0.176,-0.250,-0.970,563.8,838.0)"><text x="-5.10" y="3.53" font-size="10.2" font-weight="bold" fill="#271b0d" stroke="#271b0d" stroke-width="0.2">元</text></g>
<!-- 70_labels.py -->
<circle cx="31.3" cy="143.8" r="19.1" fill="none" stroke="#271b0d" stroke-width="1.90"/>
<text class="d" x="17" y="156.8" textLength="28.5" lengthAdjust="spacingAndGlyphs">10</text>
<circle cx="721.2" cy="143.6" r="19.1" fill="none" stroke="#271b0d" stroke-width="1.90"/>
<text class="d" x="706.9" y="156.6" textLength="28.5" lengthAdjust="spacingAndGlyphs">10</text>
<circle cx="35.4" cy="285.200" r="19.1" fill="none" stroke="#271b0d" stroke-width="1.90"/>
<text class="d" x="21" y="298.2" textLength="28" lengthAdjust="spacingAndGlyphs">12</text>
<circle cx="715.4" cy="285.2" r="19.1" fill="none" stroke="#271b0d" stroke-width="1.90"/>
<text class="d" x="701" y="298.2" textLength="28" lengthAdjust="spacingAndGlyphs">12</text>
<circle cx="372.9" cy="136.4" r="19.1" fill="none" stroke="#271b0d" stroke-width="1.90"/>
<text class="d" x="372.4" y="149.9" text-anchor="middle">1</text>
<circle cx="164.4" cy="362.4" r="19.1" fill="none" stroke="#271b0d" stroke-width="1.90"/>
<text class="d" x="164.4" y="375.9" text-anchor="middle">2</text>
<circle cx="585.5" cy="362.4" r="19.1" fill="none" stroke="#271b0d" stroke-width="1.90"/>
<text class="d" x="585.5" y="375.9" text-anchor="middle">2</text>
<circle cx="252.0" cy="442.5" r="22.7" fill="#fff"/>
<circle cx="252.0" cy="442.5" r="19.1" fill="#fff" stroke="#271b0d" stroke-width="1.90"/>
<text class="d" x="252" y="455.6" text-anchor="middle">5</text>
<circle cx="497.0" cy="442.5" r="22.7" fill="#fff"/>
<circle cx="497.0" cy="442.5" r="19.1" fill="#fff" stroke="#271b0d" stroke-width="1.90"/>
<text class="d" x="497" y="455.6" text-anchor="middle">5</text>
<circle cx="123.0" cy="489.4" r="19.1" fill="none" stroke="#271b0d" stroke-width="1.90"/>
<text class="d" x="123" y="502.5" text-anchor="middle">6</text>
<circle cx="617.7" cy="489.4" r="19.1" fill="none" stroke="#271b0d" stroke-width="1.90"/>
<text class="d" x="617.7" y="502.5" text-anchor="middle">6</text>
<circle cx="336.2" cy="474.0" r="19.1" fill="none" stroke="#271b0d" stroke-width="1.90"/>
<text class="d" x="336.2" y="487.1" text-anchor="middle">3</text>
<circle cx="421.0" cy="474.0" r="19.1" fill="none" stroke="#271b0d" stroke-width="1.90"/>
<text class="d" x="421" y="487.5" text-anchor="middle">4</text>
<circle cx="164.4" cy="764.4" r="19.1" fill="none" stroke="#271b0d" stroke-width="1.90"/>
<text class="d" x="164.4" y="777.5" text-anchor="middle">9</text>
<circle cx="259.7" cy="764.4" r="19.1" fill="none" stroke="#271b0d" stroke-width="1.90"/>
<text class="d" x="259.7" y="777.5" text-anchor="middle">8</text>
<circle cx="378.8" cy="764.2" r="19.1" fill="none" stroke="#271b0d" stroke-width="1.90"/>
<text class="d" x="378.8" y="777.7" text-anchor="middle">7</text>
<circle cx="491.5" cy="764.4" r="19.1" fill="none" stroke="#271b0d" stroke-width="1.90"/>
<text class="d" x="491.5" y="777.5" text-anchor="middle">8</text>
<circle cx="586.9" cy="764.4" r="19.1" fill="none" stroke="#271b0d" stroke-width="1.90"/>
<text class="d" x="586.9" y="777.5" text-anchor="middle">9</text>
<circle cx="150.0" cy="981.0" r="19.1" fill="none" stroke="#271b0d" stroke-width="1.90"/>
<text class="d" x="136.5" y="994" textLength="24.5" lengthAdjust="spacingAndGlyphs">11</text>
<circle cx="383.2" cy="981.0" r="19.1" fill="none" stroke="#271b0d" stroke-width="1.90"/>
<text class="d" x="369.7" y="994" textLength="24.5" lengthAdjust="spacingAndGlyphs">11</text>
<!-- 80_legend.py -->
<g fill="#ded6c4"><rect x="9" y="1061" width="735.5" height="60.5"/><rect x="9" y="1182.8" width="735.5" height="60.8"/><rect x="9" y="1304.8" width="735.5" height="63"/></g>
<g fill="#271b0d" stroke="#271b0d" stroke-width="0.5" font-size="43" font-weight="bold">
<circle cx="46.9" cy="1092.8" r="19.2" fill="none" stroke="#271b0d" stroke-width="2.00"/>
<text class="d" x="46.4" y="1106.3" text-anchor="middle">1</text>
<text y="1108.5" x="72.2 118.7 144.3 187.3 228.4 269.4 314.7 360.4">位牌（イフェー）</text>
<circle cx="425.0" cy="1092.8" r="19.2" fill="none" stroke="#271b0d" stroke-width="2.00"/>
<text class="d" x="425" y="1106.3" text-anchor="middle">2</text>
<text y="1108.5" x="451.5">花</text>
<circle cx="535.0" cy="1092.8" r="19.2" fill="none" stroke="#271b0d" stroke-width="2.00"/>
<text class="d" x="535" y="1105.9" text-anchor="middle">3</text>
<text y="1108.5" x="561.1">酒</text>
<circle cx="644.9" cy="1092.8" r="19.2" fill="none" stroke="#271b0d" stroke-width="2.00"/>
<text class="d" x="644.9" y="1106.3" text-anchor="middle">4</text>
<text y="1108.5" x="669.5">水</text>
<circle cx="47.0" cy="1153.3" r="19.2" fill="none" stroke="#271b0d" stroke-width="2.00"/>
<text class="d" x="47" y="1166.4" text-anchor="middle">5</text>
<text y="1169" x="74.9 124.3 170.8">仏飯器</text>
<circle cx="263.1" cy="1153.3" r="19.2" fill="none" stroke="#271b0d" stroke-width="2.00"/>
<text class="d" x="263.1" y="1166.4" text-anchor="middle">6</text>
<text y="1169" x="288 338.2">お茶</text>
<circle cx="429.2" cy="1153.3" r="19.2" fill="none" stroke="#271b0d" stroke-width="2.00"/>
<text class="d" x="429.2" y="1166.8" text-anchor="middle">7</text>
<text y="1169" x="457.3 505.2 530.5 577 623.3 670.8">香炉（ウコー</text>
<text y="1229.5" x="23.3 65.7 108.7">ロー）</text>
<circle cx="162.7" cy="1213.7" r="19.2" fill="none" stroke="#271b0d" stroke-width="2.00"/>
<text class="d" x="162.7" y="1226.8" text-anchor="middle">8</text>
<text y="1229.5" x="182.7 221.2 257.5 295.1">ろうそく</text>
<circle cx="364.5" cy="1213.7" r="19.2" fill="none" stroke="#271b0d" stroke-width="2.00"/>
<text class="d" x="364.5" y="1226.8" text-anchor="middle">9</text>
<text y="1229.5" x="388.1 429.4">果物</text>
<circle cx="505.3" cy="1213.7" r="19.2" fill="none" stroke="#271b0d" stroke-width="2.00"/>
<text class="d" x="491" y="1226.7" textLength="28.5" lengthAdjust="spacingAndGlyphs">10</text>
<text y="1229.5" x="525.8 562.3 599.3 638.6 673.2">ちょうちん</text>
<circle cx="46.6" cy="1273.8" r="19.2" fill="none" stroke="#271b0d" stroke-width="2.00"/>
<text class="d" x="33.1" y="1286.8" textLength="24.5" lengthAdjust="spacingAndGlyphs">11</text>
<text y="1289.6" x="70.5 113.7 158.5 199.1 240.5 285.8 308.8 349.3 390.5 431.8 475.3 516 560.2 601.4 645.1 689.8">仏様用のお箸（ソーローバーシー）</text>
<circle cx="46.6" cy="1334.6" r="19.2" fill="none" stroke="#271b0d" stroke-width="2.00"/>
<text class="d" x="32.2" y="1347.6" textLength="28" lengthAdjust="spacingAndGlyphs">12</text>
<text y="1350.4" x="66.4 104.4 145.5 182.6 221.7 244.6 286.3 330.1 372.5 415.2 456.5 499 534.4 576.5">さとうきび（グーサンウージ）</text>
</g>

</svg>
<h1 class="t" style="left:50px;top:22px;font-size:49px;line-height:52px;width:650px;height:52px">お盆の仏壇の一般的なお供え</h1>
<div class="t" style="left:20px;top:120px;width:710px;height:880px;font-size:28px;line-height:40px;white-space:normal" aria-label="図中の番号">
<span>⑩</span> <span>①</span> <span>⑩</span> <span>⑫</span> <span>⑫</span> <span>②</span> <span>②</span> <span>⑤</span> <span>⑤</span> <span>⑥</span> <span>③</span> <span>④</span> <span>⑥</span> <span>⑨</span> <span>⑧</span> <span>⑦</span> <span>⑧</span> <span>⑨</span> <span>お中元</span> <span>⑪</span> <span>⑪</span>
</div>
<p class="t" style="left:25px;top:1068px;font-size:42px;line-height:48px;width:700px;height:48px">①位牌（イフェー） ②花 ③酒 ④水</p>
<p class="t" style="left:25px;top:1129px;font-size:42px;line-height:48px;width:700px;height:48px">⑤仏飯器 ⑥お茶 ⑦香炉（ウコー</p>
<p class="t" style="left:25px;top:1190px;font-size:42px;line-height:48px;width:700px;height:48px">ロー） ⑧ろうそく ⑨果物 ⑩ちょうちん</p>
<p class="t" style="left:25px;top:1250px;font-size:42px;line-height:48px;width:700px;height:48px">⑪仏様用のお箸（ソーローバーシー）</p>
<p class="t" style="left:25px;top:1311px;font-size:42px;line-height:48px;width:700px;height:48px">⑫さとうきび（グーサンウージ）</p>

</body></html>
